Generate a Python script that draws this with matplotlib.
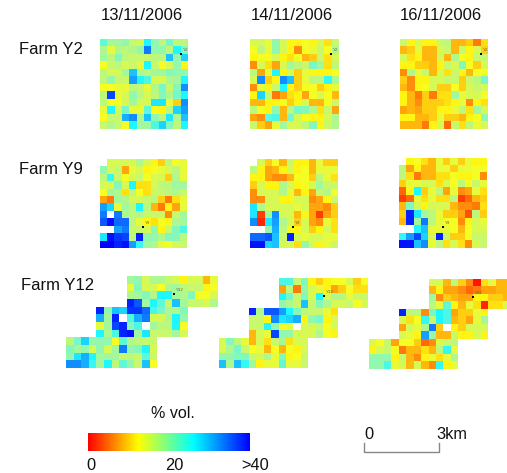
import numpy as np
import matplotlib
matplotlib.use("Agg")
import matplotlib.pyplot as plt
from matplotlib.colors import LinearSegmentedColormap, Normalize
from matplotlib.cm import ScalarMappable

plt.rcParams['font.family'] = ['Liberation Sans', 'DejaVu Sans']
n = np.nan

dates = ["13/11/2006", "14/11/2006", "16/11/2006"]
farms = ["Farm Y2", "Farm Y9", "Farm Y12"]
site_names = ["Y2", "Y9", "Y12"]

y2_13 = [
 [23,19,19,20,16,15,26,20,17,22,17,17],
 [18,14,18,17,18,20,33,20,20,17,26,21],
 [19,17,21,17,16,16,16,17,17,29,20,28],
 [13,16,17,15,16,14,26,16,13,15,20,12],
 [17,15,15,19,29,18,17,19,19,21,20,20],
 [17,20,16,16,31,26,24,15,15,18,19,26],
 [13,13,14,14,17,16,14,18,22,16,21,32],
 [17,36,14,15,20,17,15,17,21,18,22,26],
 [17,13,13,15,19,15,15,27,27,14,10,32],
 [14,26,15,22,14,14,23,13,12,17,28,31],
 [13,16,16,30,32,18,29,20,17,27,18,29],
 [16,18,16,13,26,19,19,24,28,21,17,26]]
y2_14 = [
 [15,15,14,20,15,12,12,13,12,15,11,16],
 [13,17,14,20,15,12,7,13,14,16,13,18],
 [12,13,13,15,12,11,13,9,10,16,11,15],
 [7,15,11,8,15,19,17,16,22,19,11,17],
 [17,8,14,26,12,15,10,14,12,12,12,13],
 [15,32,10,12,32,29,10,14,17,17,25,18],
 [7,14,12,16,26,12,10,13,13,10,12,14],
 [12,28,16,6,8,11,12,8,13,15,13,9],
 [9,9,12,12,13,10,12,15,9,9,13,16],
 [17,13,12,20,9,17,22,21,18,11,16,8],
 [8,7,23,24,9,22,15,13,12,12,15,18],
 [16,10,8,14,19,15,15,17,21,12,16,18]]
y2_16 = [
 [16,12,15,12,12,16,17,9,9,10,6,11],
 [9,10,14,9,9,15,16,9,16,12,15,10],
 [15,11,12,9,9,15,9,18,13,12,16,16],
 [12,12,10,10,9,12,16,15,21,13,10,15],
 [7,18,14,16,9,15,11,16,12,9,13,13],
 [10,7,12,12,15,15,16,16,10,16,17,22],
 [9,7,12,13,15,10,10,13,10,15,16,15],
 [12,9,6,10,6,11,11,19,14,15,15,13],
 [12,9,7,10,10,10,11,12,14,7,12,11],
 [8,9,8,10,10,12,12,14,17,11,19,15],
 [12,12,9,9,10,14,10,10,9,12,13,20],
 [9,9,9,6,12,15,5,16,11,17,14,15]]
y9_13 = [
 [n,15,15,15,15,18,15,12,10,17,13,14],
 [20,15,16,8,14,15,12,13,14,15,17,14],
 [17,25,16,13,15,16,13,15,15,10,18,14],
 [15,15,21,15,26,11,11,15,17,17,19,19],
 [13,19,18,11,17,13,11,16,16,17,18,16],
 [8,6,19,18,15,15,16,17,10,6,11,14],
 [31,28,14,19,17,26,17,9,6,12,8,14],
 [33,n,33,18,17,18,16,16,16,7,16,19],
 [35,39,34,34,17,14,12,11,13,12,18,19],
 [n,n,31,33,16,16,15,20,12,16,21,24],
 [27,39,37,36,17,38,20,20,18,21,21,17],
 [40,40,38,39,31,25,19,18,14,13,15,16]]
y9_14 = [
 [n,15,10,13,9,16,12,12,9,14,10,10],
 [17,12,8,9,12,15,12,13,9,14,14,14],
 [12,12,8,7,7,9,13,13,10,17,14,11],
 [10,15,12,12,18,15,12,13,15,19,16,16],
 [7,15,15,15,18,14,9,12,8,16,18,13],
 [7,7,15,15,12,12,15,15,7,8,12,16],
 [27,18,15,15,15,15,14,15,8,8,7,10],
 [27,3,19,32,15,15,9,12,8,3,8,10],
 [32,2,27,31,18,15,10,15,8,7,14,11],
 [n,n,20,30,17,13,12,15,10,12,15,11],
 [34,34,35,29,16,38,15,14,15,15,14,14],
 [39,39,28,29,15,15,11,20,15,12,14,16]]
y9_16 = [
 [n,12,13,11,9,14,10,14,10,14,12,12],
 [17,8,12,9,9,14,14,10,14,14,13,13],
 [17,11,6,9,9,11,11,13,12,12,13,7],
 [10,14,14,15,15,11,15,13,17,13,16,14],
 [5,12,26,10,14,17,8,14,7,8,14,11],
 [3,5,14,11,14,11,11,17,3,5,9,10],
 [9,21,15,12,15,15,15,9,7,7,6,11],
 [10,38,27,19,17,14,10,10,8,4,17,10],
 [9,38,19,33,17,14,13,13,7,12,15,14],
 [n,n,26,29,14,14,14,13,9,13,15,15],
 [25,31,36,28,15,38,16,10,10,13,16,16],
 [39,39,29,32,14,17,11,15,11,7,15,16]]
# Y12: three stepped blocks, each 4 rows of 12 cells
y12_13_top = [
 [19,20,15,18,18,16,15,12,15,15,9,14],
 [14,21,15,15,13,18,19,17,16,16,12,13],
 [18,19,21,18,26,26,19,18,21,13,13,15],
 [38,35,19,26,23,16,29,19,16,16,15,18]]
y12_13_mid = [
 [38,20,29,28,37,37,34,24,22,18,18,21],
 [30,19,38,n,24,30,33,15,15,18,26,20],
 [14,19,36,38,21,24,n,19,17,17,26,13],
 [26,18,24,38,39,19,27,16,16,16,19,15]]
y12_13_low = [
 [17,22,28,20,20,20,13,23,18,17,16,16],
 [21,19,20,15,20,15,19,33,20,21,26,15],
 [20,27,30,26,19,19,19,16,17,16,23,16],
 [32,32,30,25,19,26,17,23,20,16,29,13]]
y12_14_top = [
 [24,24,16,21,12,10,12,13,13,15,10,13],
 [8,17,6,20,15,14,12,8,10,13,11,11],
 [26,22,16,21,15,26,15,18,18,14,16,16],
 [20,18,16,29,16,21,18,15,15,16,13,15]]
y12_14_mid = [
 [38,18,35,35,31,26,21,17,16,16,14,11],
 [16,16,12,32,27,28,30,12,20,22,12,15],
 [16,16,26,20,13,14,n,15,15,16,13,15],
 [9,15,14,36,20,20,15,15,15,18,13,12]]
y12_14_low = [
 [15,21,17,14,9,15,11,16,19,11,15,15],
 [15,18,22,16,13,14,9,13,9,13,12,15],
 [20,20,21,21,16,15,18,14,21,12,13,16],
 [29,18,29,25,19,12,14,14,23,14,14,16]]
y12_16_top = [
 [15,15,9,17,10,7,1,11,14,9,9,8],
 [9,12,8,8,7,5,6,8,8,9,9,8],
 [19,7,10,9,8,8,12,12,10,10,9,7],
 [17,14,23,12,9,14,11,2,11,11,15,16]]
y12_16_mid = [
 [38,17,17,7,22,26,24,8,10,10,14,12],
 [15,11,13,25,16,26,24,9,10,8,14,19],
 [8,15,14,18,33,10,n,12,10,15,15,15],
 [15,14,12,31,20,9,9,16,12,12,15,12]]
y12_16_low = [
 [15,13,16,8,13,13,10,5,7,15,16,17],
 [12,15,16,13,6,9,9,11,9,17,25,14],
 [20,20,20,12,16,9,7,12,14,11,14,18],
 [20,20,24,14,15,9,15,9,7,25,12,14]]

W, H = 507, 473
fig = plt.figure(figsize=(W/100, H/100), dpi=100)
cmap = LinearSegmentedColormap.from_list(
    "vol", [(0, "#ff0000"), (0.31, "#ffff00"), (0.65, "#00ffff"), (1, "#0000ff")])
cell_cmap = LinearSegmentedColormap.from_list(
    "cells", [(0, "#ff0000"), (0.31, "#ffff14"), (0.40, "#c8f86c"), (0.48, "#a0f8a0"),
              (0.56, "#70f8d0"), (0.65, "#20f8ff"), (1, "#0000ff")])
cell_cmap.set_bad("white")
norm = Normalize(0, 40)


def pix_axes(x0, y0, x1, y1):
    ax = fig.add_axes([x0/W, 1-y1/H, (x1-x0)/W, (y1-y0)/H])
    ax.set_axis_off()
    return ax


def stepped(top, mid, low):
    grid = np.full((12, 20), np.nan)
    grid[0:4, 8:20] = top
    grid[4:8, 4:16] = mid
    grid[8:12, 0:12] = low
    return grid


panels = [
    (y2_13, (100, 39, 188, 129)), (y2_14, (250, 39, 338, 129)), (y2_16, (400, 39, 488, 129)),
    (y9_13, (100, 159, 187, 248)), (y9_14, (250, 159, 337, 248)), (y9_16, (399, 158, 487, 248)),
    (stepped(y12_13_top, y12_13_mid, y12_13_low), (66, 276, 218, 368)),
    (stepped(y12_14_top, y12_14_mid, y12_14_low), (219.3, 278, 368, 368)),
    (stepped(y12_16_top, y12_16_mid, y12_16_low), (369.3, 279, 518, 369)),
]
for data, box in panels:
    ax = pix_axes(*box)
    ax.imshow(np.array(data, dtype=float), cmap=cell_cmap, norm=norm, aspect="auto",
              interpolation="nearest")

# overlay in pixel coordinates
ov = fig.add_axes([0, 0, 1, 1], facecolor="none")
ov.set_xlim(0, W)
ov.set_ylim(H, 0)
ov.set_axis_off()

for d, x in zip(dates, [142, 292, 441]):
    ov.text(x, 16, d, ha="center", va="center", fontsize=12, color="#111111")
for f, x, y in zip(farms, [19, 19, 21], [50, 169, 285]):
    ov.text(x, y, f, ha="left", va="center", fontsize=12, color="#111111")

site_xy = [(181, 54, 0), (331, 54, 0), (481, 54, 0),
           (143, 227, 1), (293, 227, 1), (443, 227, 1),
           (174, 294, 2), (324, 296, 2), (473, 297, 2)]
for x, y, i in site_xy:
    ov.plot([x], [y], "s", ms=1.6, color="black", mew=0)
    ov.text(x+2, y-4, site_names[i], fontsize=3.2, color="#666644", va="center")

# colour key
cax = pix_axes(88, 433, 250, 451)
cax.set_axis_on()
cb = fig.colorbar(ScalarMappable(norm=norm, cmap=cmap), cax=cax, orientation="horizontal")
cb.set_ticks([])
cb.outline.set_visible(False)
ov.text(173, 413, "% vol.", ha="center", va="center", fontsize=11.5, color="#111111")
for lab, x in zip(["0", "20", ">40"], [91, 174, 255]):
    ov.text(x, 465, lab, ha="center", va="center", fontsize=11.8, color="#111111")

# scale bar
ov.plot([364, 364, 439, 439], [443, 452, 452, 443], color="#888888", lw=1)
ov.text(369, 434, "0", ha="center", va="center", fontsize=11.8, color="#111111")
ov.text(452, 434, "3km", ha="center", va="center", fontsize=11.8, color="#111111")

fig.savefig("out.png", dpi=100)
